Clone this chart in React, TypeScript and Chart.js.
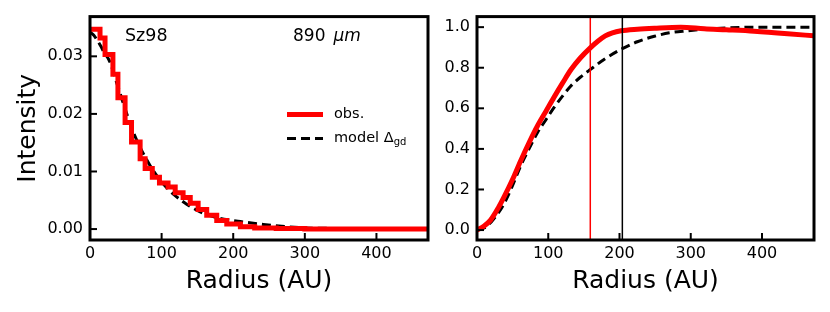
import React, { useEffect, useRef } from "react";
import { Chart, registerables } from "chart.js";

Chart.register(...registerables);

const FONT = '"DejaVu Sans", sans-serif';

// ---- data ----
const xTickValues = [0, 100, 200, 300, 400];
const intensityTicks = [0.0, 0.01, 0.02, 0.03];
const ratioTicks = [0.0, 0.2, 0.4, 0.6, 0.8, 1.0];

// left panel: observed radial profile (histogram steps)
const obsBinEdges = [0, 14, 21, 32, 39, 49, 58, 70, 77, 87, 97, 109, 119, 130, 140, 151, 163, 177, 191, 210, 230, 260, 300, 473];
const obsIntensity = [0.0347, 0.0332, 0.0303, 0.0269, 0.0228, 0.0185, 0.0151, 0.0122, 0.0105, 0.009, 0.008, 0.0073, 0.0063, 0.0055, 0.0045, 0.0034, 0.0024, 0.0015, 0.0009, 0.0004, 0.0002, 0.0001, 0.0];

// left panel: model profile
const modelRadius = [0, 5, 10, 15, 20, 26, 30, 37, 42, 50, 60, 70, 84, 98, 110, 121, 135, 149, 163, 177, 193, 210, 242, 275, 300, 350, 412];
const modelIntensity = [0.0342, 0.0337, 0.0328, 0.0318, 0.0306, 0.0295, 0.0283, 0.0255, 0.0236, 0.0205, 0.017, 0.0142, 0.011, 0.0085, 0.0068, 0.0056, 0.0043, 0.0033, 0.0025, 0.002, 0.0016, 0.0013, 0.0008, 0.0004, 0.0002, 0.0001, 0.0];

// right panel: cumulative fraction
const cumObsRadius = [0, 10, 19, 30, 38, 50, 61.5, 73, 85, 97, 108, 120, 132, 145, 159, 170, 180, 190, 202, 225, 249, 286, 319, 350, 389, 436, 473];
const cumObs = [0.0, 0.02, 0.049, 0.11, 0.163, 0.25, 0.343, 0.43, 0.514, 0.587, 0.654, 0.724, 0.791, 0.848, 0.898, 0.932, 0.957, 0.972, 0.982, 0.99, 0.995, 1.0, 0.992, 0.987, 0.98, 0.968, 0.957];

const cumModelRadius = [0, 10, 20, 30, 38, 50, 61.5, 73, 85, 97, 108, 120, 132, 145, 159, 180, 204, 225, 249, 270, 295, 320, 342, 389, 473];
const cumModel = [0.0, 0.01, 0.04, 0.085, 0.13, 0.22, 0.318, 0.4, 0.481, 0.545, 0.603, 0.66, 0.711, 0.753, 0.791, 0.845, 0.894, 0.928, 0.955, 0.972, 0.982, 0.99, 0.995, 1.0, 1.0];

const obsRadiusMarker = 159;
const modelRadiusMarker = 204;

const RED = "#ff0000";

function stepPoints(edges: number[], vals: number[]) {
  const pts = vals.map((v, i) => ({ x: edges[i], y: v }));
  pts.push({ x: edges[edges.length - 1], y: vals[vals.length - 1] });
  return pts;
}
function zipPoints(xs: number[], ys: number[]) {
  return xs.map((x, i) => ({ x, y: ys[i] }));
}

type DecorCfg = {
  vlines?: { x: number; color: string }[];
  left?: boolean;
};

function makeDecor(cfg: DecorCfg) {
  return {
    id: "decor",
    afterDatasetsDraw(chart: any) {
      const { ctx, chartArea, scales } = chart;
      const { left, top, right, bottom } = chartArea;
      ctx.save();
      // vertical marker lines
      (cfg.vlines || []).forEach((v) => {
        const x = scales.x.getPixelForValue(v.x);
        ctx.strokeStyle = v.color;
        ctx.lineWidth = 1.5;
        ctx.beginPath();
        ctx.moveTo(x, top);
        ctx.lineTo(x, bottom);
        ctx.stroke();
      });
      // inward ticks
      ctx.strokeStyle = "#000";
      ctx.lineWidth = 2;
      scales.x.ticks.forEach((t: any) => {
        const x = scales.x.getPixelForValue(t.value);
        ctx.beginPath();
        ctx.moveTo(x, bottom);
        ctx.lineTo(x, bottom - 7);
        ctx.stroke();
      });
      scales.y.ticks.forEach((t: any) => {
        const y = scales.y.getPixelForValue(t.value);
        ctx.beginPath();
        ctx.moveTo(left, y);
        ctx.lineTo(left + 7, y);
        ctx.stroke();
      });
      // frame
      ctx.lineWidth = 3;
      ctx.strokeRect(left, top, right - left, bottom - top);

      if (cfg.left) {
        ctx.fillStyle = "#000";
        ctx.textBaseline = "middle";
        ctx.textAlign = "left";
        ctx.font = `17.5px ${FONT}`;
        ctx.fillText("Sz98", left + 35, top + 20);
        ctx.font = `17px ${FONT}`;
        ctx.fillText("890", left + 203, top + 20);
        const w = ctx.measureText("890").width;
        ctx.font = `italic 17px ${FONT}`;
        ctx.fillText("\u03bcm", left + 203 + w + 8, top + 20);

        // legend
        const lx0 = left + 197;
        const lx1 = left + 233;
        const tx = left + 244;
        const y1 = top + 98;
        const y2 = top + 122;
        ctx.lineCap = "butt";
        ctx.strokeStyle = RED;
        ctx.lineWidth = 5;
        ctx.beginPath();
        ctx.moveTo(lx0, y1);
        ctx.lineTo(lx1, y1);
        ctx.stroke();
        ctx.strokeStyle = "#000";
        ctx.lineWidth = 3;
        ctx.setLineDash([9, 5]);
        ctx.beginPath();
        ctx.moveTo(lx0, y2);
        ctx.lineTo(lx1, y2);
        ctx.stroke();
        ctx.setLineDash([]);
        ctx.font = `14.5px ${FONT}`;
        ctx.fillText("obs.", tx, y1);
        const base = "model \u0394";
        ctx.fillText(base, tx, y2);
        const bw = ctx.measureText(base).width;
        ctx.font = `10px ${FONT}`;
        ctx.fillText("gd", tx + bw, y2 + 4);
      }
      ctx.restore();
    },
  };
}

function axisCommon(ticks: number[], fmt: (v: number) => string, padding: number) {
  return {
    type: "linear" as const,
    afterBuildTicks: (s: any) => {
      s.ticks = ticks.map((v) => ({ value: v }));
    },
    grid: { display: false, drawTicks: false },
    border: { display: false },
    ticks: {
      padding,
      color: "#000",
      maxRotation: 0,
      autoSkip: false,
      font: { family: FONT, size: 16 },
      callback: (v: any) => fmt(Number(v)),
    },
  };
}

export default function App() {
  const leftRef = useRef<HTMLCanvasElement>(null);
  const rightRef = useRef<HTMLCanvasElement>(null);

  useEffect(() => {
    document.body.style.overflow = "hidden";
    const titleFont = { family: FONT, size: 25, lineHeight: 1 };

    const leftChart = new Chart(leftRef.current!, {
      type: "line",
      data: {
        datasets: [
          {
            label: "obs.",
            data: stepPoints(obsBinEdges, obsIntensity),
            borderColor: RED,
            borderWidth: 5,
            stepped: "before",
            pointRadius: 0,
            fill: false,
          },
          {
            label: "model \u0394gd",
            data: zipPoints(modelRadius, modelIntensity),
            borderColor: "#000",
            borderWidth: 3,
            borderDash: [9, 5],
            pointRadius: 0,
            fill: false,
            cubicInterpolationMode: "monotone",
          },
        ],
      } as any,
      options: {
        animation: false,
        responsive: false,
        maintainAspectRatio: false,
        layout: { padding: { left: 0, top: 15, right: 12, bottom: 0 } },
        plugins: { legend: { display: false }, tooltip: { enabled: false } },
        scales: {
          x: {
            ...axisCommon(xTickValues, (v) => v.toFixed(0), 4),
            min: 0,
            max: 472,
            afterFit: (s: any) => {
              s.height = 72;
            },
            title: {
              display: true,
              text: "Radius (AU)",
              color: "#000",
              font: titleFont,
              padding: { top: 0, bottom: 18 },
            },
          },
          y: {
            ...axisCommon(intensityTicks, (v) => v.toFixed(2), 7),
            min: -0.0019,
            max: 0.0369,
            afterFit: (s: any) => {
              s.width = 90;
            },
            title: {
              display: true,
              text: "Intensity",
              color: "#000",
              font: titleFont,
              padding: { top: 16, bottom: 0 },
            },
          },
        },
      } as any,
      plugins: [makeDecor({ left: true })],
    });

    const rightChart = new Chart(rightRef.current!, {
      type: "line",
      data: {
        datasets: [
          {
            label: "obs.",
            data: zipPoints(cumObsRadius, cumObs),
            borderColor: RED,
            borderWidth: 5,
            pointRadius: 0,
            fill: false,
            cubicInterpolationMode: "monotone",
          },
          {
            label: "model",
            data: zipPoints(cumModelRadius, cumModel),
            borderColor: "#000",
            borderWidth: 3,
            borderDash: [9, 5],
            pointRadius: 0,
            fill: false,
            cubicInterpolationMode: "monotone",
          },
        ],
      } as any,
      options: {
        animation: false,
        responsive: false,
        maintainAspectRatio: false,
        layout: { padding: { left: 0, top: 15, right: 16, bottom: 0 } },
        plugins: { legend: { display: false }, tooltip: { enabled: false } },
        scales: {
          x: {
            ...axisCommon(xTickValues, (v) => v.toFixed(0), 4),
            min: 0,
            max: 473,
            afterFit: (s: any) => {
              s.height = 72;
            },
            title: {
              display: true,
              text: "Radius (AU)",
              color: "#000",
              font: titleFont,
              padding: { top: 0, bottom: 18 },
            },
          },
          y: {
            ...axisCommon(ratioTicks, (v) => v.toFixed(1), 7),
            min: -0.049,
            max: 1.052,
            afterFit: (s: any) => {
              s.width = 37;
            },
          },
        },
      } as any,
      plugins: [
        makeDecor({
          vlines: [
            { x: obsRadiusMarker, color: RED },
            { x: modelRadiusMarker, color: "#000" },
          ],
        }),
      ],
    });

    return () => {
      leftChart.destroy();
      rightChart.destroy();
    };
  }, []);

  return (
    <div style={{ position: "absolute", left: 0, top: 0, width: 830, height: 312, background: "#fff" }}>
      <canvas ref={leftRef} width={440} height={312} style={{ position: "absolute", left: 0, top: 0, width: 440, height: 312 }} />
      <canvas ref={rightRef} width={390} height={312} style={{ position: "absolute", left: 440, top: 0, width: 390, height: 312 }} />
    </div>
  );
}
